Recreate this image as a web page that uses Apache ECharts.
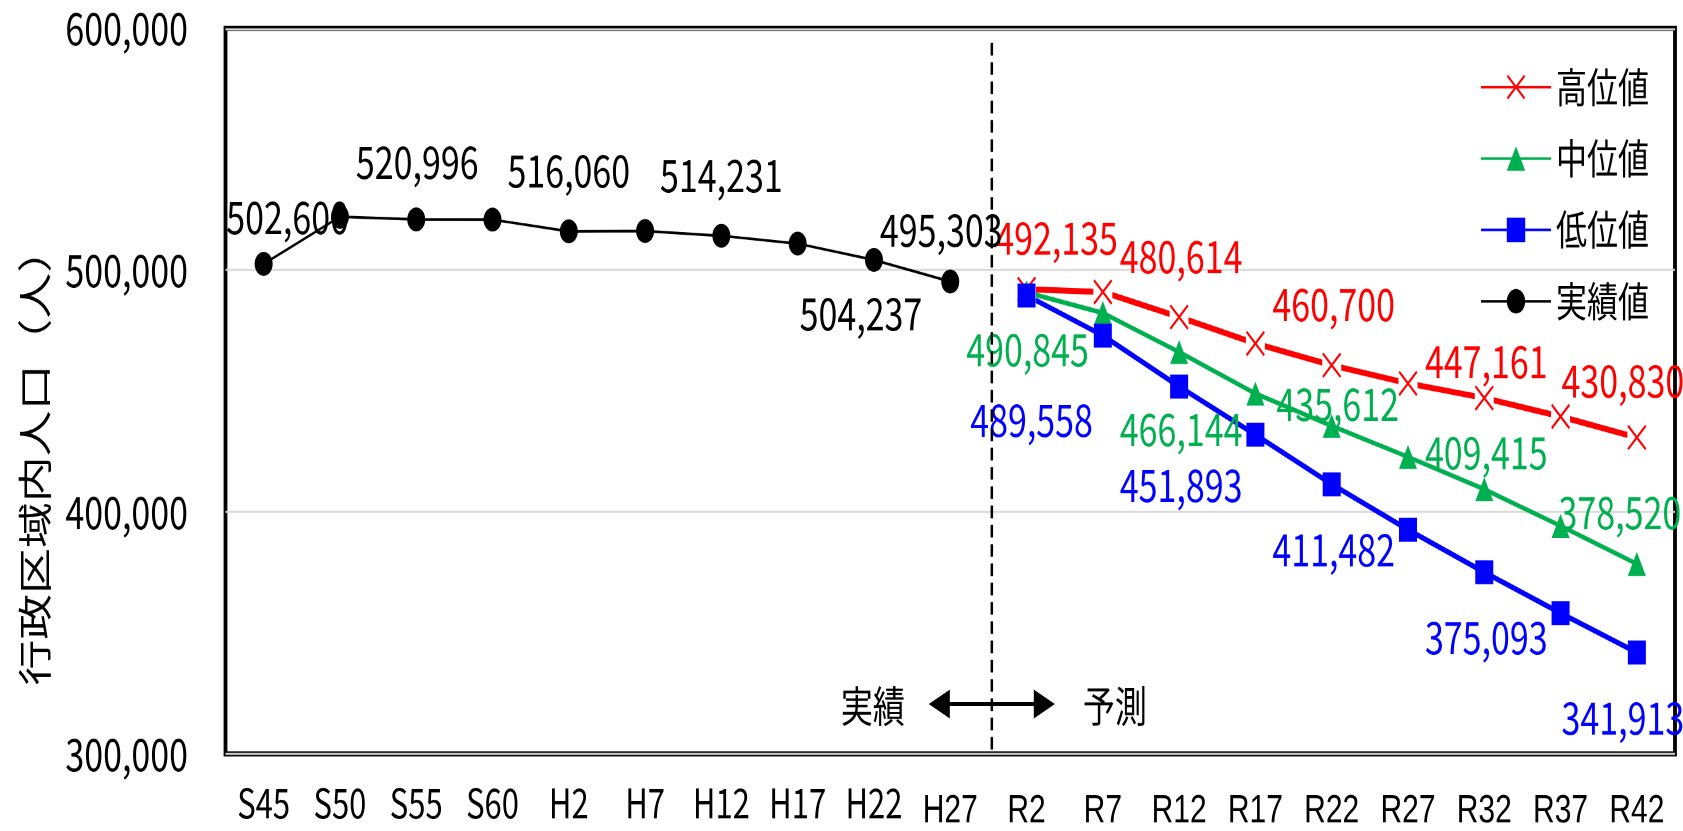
<!DOCTYPE html>
<html>
<head>
<meta charset="utf-8">
<script src="https://cdn.jsdelivr.net/npm/echarts@6/dist/echarts.min.js"></script>
<style>
  html, body { margin: 0; padding: 0; background: #fff; overflow: hidden; }
  #wrap { width: 1683px; height: 831px; overflow: hidden; position: relative; }
  #chart { width: 1683px; transform-origin: 0 0; }
</style>
</head>
<body>
<div id="wrap"><div id="chart"></div></div>
<script>
// ---- data -------------------------------------------------------------
const categories = ['S45', 'S50', 'S55', 'S60', 'H2', 'H7', 'H12', 'H17', 'H22', 'H27',
                    'R2', 'R7', 'R12', 'R17', 'R22', 'R27', 'R32', 'R37', 'R42'];

// 実績値 (S45 – H27)
const actual = [502600, 522100, 520996, 520900, 516060, 516200, 514231, 511000, 504237, 495303];

// 推計 (R2 – R42)
const high = [492135, 491000, 480614, 469700, 460700, 453200, 447161, 439500, 430830];
const mid  = [490845, 482300, 466144, 449000, 435612, 422800, 409415, 394300, 378520];
const low  = [489558, 473000, 451893, 432000, 411482, 392700, 375093, 358200, 341913];

const yRange = [300000, 600000];
const yStep = 100000;
const legendNames = ['高位値', '中位値', '低位値', '実績値'];
const yAxisTitle = '行政区域内人口（人）';
const periodLabels = ['実績', '予測'];

// ---- layout / style ---------------------------------------------------
const W = 1683, H = 831;
const SY = 1.3296;                 // vertical stretch of the whole drawing
const CH = H / SY;                 // canvas height before stretching
const CJK = "'Noto Sans CJK JP', 'Noto Sans', sans-serif";
const NUM = "'Liberation Sans Narrow', 'Noto Sans CJK JP', sans-serif";
const WIDE = "'Liberation Sans', Arial, sans-serif";

const RED = '#FF0000', GREEN = '#00B050', BLUE = '#0000FF', BLACK = '#000000';

// label placement relative to each point, in screen pixels [dx, dy]
const LABEL_OFFSETS = {
  actual: { S45: [24, -47], S55: [1, -58], H2: [0, -61], H12: [0, -61], H22: [-13, 53], H27: [-9, -52] },
  high:   { R2: [30, -52], R12: [2, -61], R22: [2, -61], R32: [2, -37], R42: [-14, -57] },
  mid:    { R2: [1, 57], R12: [2, 77], R22: [6, -22], R32: [2, -37], R42: [-17, -52] },
  low:    { R2: [5, 124], R12: [2, 98], R22: [2, 65], R32: [2, 65], R42: [-14, 65] }
};

const X_SYMBOL = 'path://M0,0.7L0.7,0L5,4.3L9.3,0L10,0.7L5.7,5L10,9.3L9.3,10L5,5.7L0.7,10L0,9.3L4.3,5Z';

const fmt = v => Number(v).toLocaleString('en-US');

// place a value list on the category axis starting at a given category
function seriesData(values, startIndex, offsets) {
  return categories.map((c, i) => {
    const k = i - startIndex;
    if (k < 0 || k >= values.length) return '-';
    const off = offsets && offsets[c];
    if (!off) return values[k];
    return { value: values[k], label: { show: true, offset: [off[0], off[1] / SY] } };
  });
}

function valueLabel(color) {
  return {
    show: false,
    position: 'inside',
    color: color,
    fontFamily: NUM,
    fontSize: 34,
    align: 'center',
    verticalAlign: 'middle',
    formatter: p => fmt(p.value)
  };
}

const el = document.getElementById('chart');
el.style.height = CH + 'px';
el.style.transform = 'scaleY(' + SY + ')';

const chart = echarts.init(el, null, { renderer: 'canvas', devicePixelRatio: 2 });

const startProj = categories.indexOf('R2');

const option = {
  animation: false,
  backgroundColor: '#fff',
  grid: {
    left: 225.5, right: 8, top: 21.3, bottom: 55.9,
    show: true, borderColor: BLACK, borderWidth: 3.8, backgroundColor: 'transparent'
  },
  legend: {
    orient: 'vertical',
    left: 1480,
    top: 50,
    padding: 0,
    itemWidth: 70,
    itemHeight: 23,
    itemGap: 22.7,
    data: legendNames,
    textStyle: { fontFamily: CJK, fontSize: 31, color: BLACK }
  },
  xAxis: {
    type: 'category',
    data: categories,
    boundaryGap: true,
    axisLine: { show: false },
    axisTick: { show: false },
    axisLabel: {
      interval: 0,
      margin: 21,
      formatter: (v, i) => (i >= categories.indexOf('H27') ? '{w|' : '{n|') + v + '}',
      rich: {
        n: { fontFamily: NUM, fontSize: 31, color: BLACK },
        w: { fontFamily: WIDE, fontSize: 30, color: BLACK, padding: [7, 0, 0, 0] }
      }
    }
  },
  yAxis: {
    type: 'value',
    min: yRange[0],
    max: yRange[1],
    interval: yStep,
    axisLine: { show: false },
    axisTick: { show: false },
    axisLabel: { margin: 37.5, fontFamily: NUM, fontSize: 34, color: BLACK, formatter: v => fmt(v) },
    splitLine: { show: true, lineStyle: { color: '#D9D9D9', width: 1.5 } }
  },
  series: [
    {
      name: '高位値',
      type: 'line',
      data: seriesData(high, startProj, LABEL_OFFSETS.high),
      symbol: X_SYMBOL,
      symbolSize: 19,
      lineStyle: { color: RED, width: 4.5 },
      itemStyle: { color: RED },
      label: valueLabel(RED)
    },
    {
      // white backing that opens the red line around each cross
      name: 'high-mask',
      type: 'line',
      silent: true,
      data: seriesData(high, startProj),
      symbol: 'rect',
      symbolSize: 19,
      lineStyle: { width: 0, opacity: 0 },
      itemStyle: { color: '#fff' }
    },
    {
      name: 'high-cross',
      type: 'line',
      silent: true,
      data: seriesData(high, startProj),
      symbol: X_SYMBOL,
      symbolSize: 19,
      lineStyle: { width: 0, opacity: 0 },
      itemStyle: { color: RED }
    },
    {
      name: '中位値',
      type: 'line',
      data: seriesData(mid, startProj, LABEL_OFFSETS.mid),
      symbol: 'triangle',
      symbolSize: 18,
      lineStyle: { color: GREEN, width: 3.5 },
      itemStyle: { color: GREEN },
      label: valueLabel(GREEN)
    },
    {
      name: '低位値',
      type: 'line',
      data: seriesData(low, startProj, LABEL_OFFSETS.low),
      symbol: 'rect',
      symbolSize: 18,
      lineStyle: { color: BLUE, width: 4 },
      itemStyle: { color: BLUE },
      label: valueLabel(BLUE)
    },
    {
      name: '実績値',
      type: 'line',
      data: seriesData(actual, 0, LABEL_OFFSETS.actual),
      symbol: 'circle',
      symbolSize: 18,
      lineStyle: { color: BLACK, width: 2 },
      itemStyle: { color: BLACK },
      label: valueLabel(BLACK)
    }
  ]
};

chart.setOption(option);

// divider between observed and projected periods, with its annotation
const px = c => chart.convertToPixel({ xAxisIndex: 0 }, c);
const py = v => chart.convertToPixel({ yAxisIndex: 0 }, v);
const xLast = px('H27'), xFirst = px('R2');
const divX = xLast + 0.545 * (xFirst - xLast);
const yTop = py(yRange[1]), yBot = py(yRange[0]);
const arrowY = yBot - 37.5;
const tip = 63, headLen = 21, headHalf = 10.9;

chart.setOption({
  graphic: [
    {
      type: 'line', z: 100, silent: true,
      shape: { x1: divX, y1: yTop + 11, x2: divX, y2: yBot },
      style: { stroke: BLACK, lineWidth: 2.5, lineDash: [9.5, 5] }
    },
    {
      type: 'line', z: 100, silent: true,
      shape: { x1: divX - tip + headLen - 2, y1: arrowY, x2: divX + tip - headLen + 2, y2: arrowY },
      style: { stroke: BLACK, lineWidth: 3 }
    },
    {
      type: 'polygon', z: 100, silent: true,
      shape: { points: [[divX - tip, arrowY], [divX - tip + headLen, arrowY - headHalf], [divX - tip + headLen, arrowY + headHalf]] },
      style: { fill: BLACK }
    },
    {
      type: 'polygon', z: 100, silent: true,
      shape: { points: [[divX + tip, arrowY], [divX + tip - headLen, arrowY - headHalf], [divX + tip - headLen, arrowY + headHalf]] },
      style: { fill: BLACK }
    },
    {
      type: 'text', z: 100, silent: true, x: divX - 119, y: arrowY + 1.5,
      style: { text: periodLabels[0], fontFamily: CJK, fontSize: 32, fill: BLACK, align: 'center', verticalAlign: 'middle' }
    },
    {
      type: 'text', z: 100, silent: true, x: divX + 123, y: arrowY + 1.5,
      style: { text: periodLabels[1], fontFamily: CJK, fontSize: 32, fill: BLACK, align: 'center', verticalAlign: 'middle' }
    },
    {
      type: 'text', z: 100, silent: true, x: 35, y: (yTop + yBot) / 2 + 49, rotation: Math.PI / 2,
      style: { text: yAxisTitle, fontFamily: CJK, fontSize: 34.5, fill: BLACK, align: 'center', verticalAlign: 'middle' }
    }
  ]
});
</script>
</body>
</html>
